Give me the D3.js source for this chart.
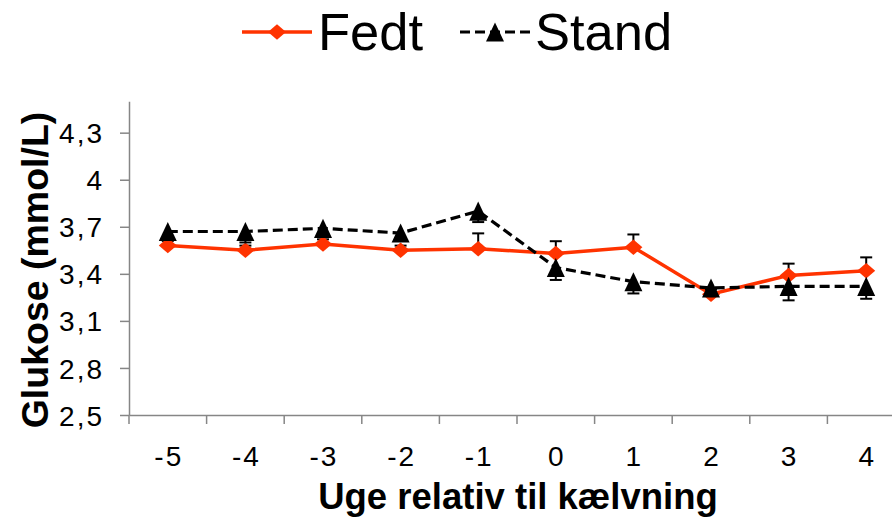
<!DOCTYPE html>
<html>
<head>
<meta charset="utf-8">
<script src="https://cdn.jsdelivr.net/npm/d3@7"></script>
<style>
  body { margin: 0; background: #fff; }
  text { font-family: "Liberation Sans", Arial, sans-serif; fill: #000; }
</style>
</head>
<body>
<div id="chart"></div>
<script>
// week relative to calving
var weeks = ['-5', '-4', '-3', '-2', '-1', '0', '1', '2', '3', '4'];
var fedtValues = [3.58, 3.55, 3.59, 3.55, 3.56, 3.53, 3.57, 3.27, 3.39, 3.42];
var fedtErr = [0.03, 0.03, 0.03, 0.03, 0.098, 0.078, 0.081, 0.03, 0.075, 0.085];
var standValues = [3.67, 3.67, 3.69, 3.66, 3.80, 3.44, 3.35, 3.31, 3.32, 3.32];
var standErr = [0.04, 0.07, 0.04, 0.04, 0.07, 0.079, 0.075, 0.04, 0.089, 0.079];
var yTicks = [2.5, 2.8, 3.1, 3.4, 3.7, 4, 4.3];
var yDomain = [2.5, 4.5];

var width = 892, height = 521;
var plot = {left: 129, right: 905, top: 101.3, bottom: 415};

var svg = d3.select('#chart')
    .append('svg')
        .attr('width', width)
        .attr('height', height);

var x = d3.scaleBand()
    .domain(weeks)
    .range([plot.left, plot.right])
    .padding(0);

var y = d3.scaleLinear()
    .domain(yDomain)
    .range([plot.bottom, plot.top]);

var axisColor = '#868686';
var red = '#ff3300';

// y axis
var yAxis = d3.axisLeft(y)
    .tickValues(yTicks)
    .tickSize(9)
    .tickSizeOuter(0)
    .tickPadding(16)
    .tickFormat(d => String(d).replace('.', ','));

var gy = svg.append('g')
    .attr('transform', `translate(${plot.left},0)`)
    .call(yAxis);
gy.select('.domain').attr('stroke', axisColor).attr('stroke-width', 1.5);
gy.selectAll('.tick line').attr('stroke', axisColor).attr('stroke-width', 1.5);
gy.selectAll('.tick text')
    .style('font-size', '28px')
    .style('letter-spacing', '2px')
    .attr('dy', '0.36em');

// x axis: labels centred in the band, tick marks between categories
var xAxis = d3.axisBottom(x)
    .tickSize(0)
    .tickSizeOuter(0)
    .tickPadding(31);

var gx = svg.append('g')
    .attr('transform', `translate(0,${y(yDomain[0])})`)
    .call(xAxis);
gx.select('.domain').attr('stroke', axisColor).attr('stroke-width', 1.5);
gx.selectAll('.tick text')
    .style('font-size', '28px')
    .style('letter-spacing', '2px')
    .attr('dx', '1');

gx.selectAll('.sep')
    .data(weeks)
    .enter()
    .append('line')
        .attr('class', 'sep')
        .attr('x1', d => x(d))
        .attr('x2', d => x(d))
        .attr('y1', 0)
        .attr('y2', 9)
        .attr('stroke', axisColor)
        .attr('stroke-width', 1.5);

// axis titles
svg.append('text')
    .attr('x', 518)
    .attr('y', 509)
    .attr('text-anchor', 'middle')
    .style('font-size', '36.5px')
    .style('font-weight', 'bold')
    .text('Uge relativ til kælvning');

svg.append('text')
    .attr('transform', 'translate(48,270) rotate(-90)')
    .attr('text-anchor', 'middle')
    .style('font-size', '37.5px')
    .style('font-weight', 'bold')
    .text('Glukose (mmol/L)');

// marker shapes like the spreadsheet ones
var diamond = {
    draw: function(ctx, size){
        var w = size / 2, h = size * 0.43;
        ctx.moveTo(0, -h);
        ctx.lineTo(w, 0);
        ctx.lineTo(0, h);
        ctx.lineTo(-w, 0);
        ctx.closePath();
    }
};
var triangle = {
    draw: function(ctx, size){
        var w = size / 2, h = size * 0.53;
        ctx.moveTo(0, -h);
        ctx.lineTo(w, h);
        ctx.lineTo(-w, h);
        ctx.closePath();
    }
};

var series = [
    {name: 'Fedt', values: fedtValues, err: fedtErr, dir: 1, color: red, dash: null, width: 3.5, shape: diamond, size: 18},
    {name: 'Stand', values: standValues, err: standErr, dir: -1, color: '#000', dash: '10,5', width: 3.2, shape: triangle, size: 18}
];

var line = d3.line()
    .x(d => x(d.week) + x.bandwidth() / 2)
    .y(d => y(d.value));

series.forEach(function(s){
    var pts = weeks.map((w, i) => ({week: w, value: s.values[i], err: s.err[i]}));
    var g = svg.append('g').attr('class', 'series');

    g.append('path')
        .datum(pts)
        .attr('d', line)
        .attr('fill', 'none')
        .attr('stroke', s.color)
        .attr('stroke-width', s.width)
        .attr('stroke-dasharray', s.dash);

    // error bars (one direction only)
    var eb = g.selectAll('.err')
        .data(pts)
        .enter()
        .append('g')
        .attr('class', 'err')
        .attr('stroke', '#000')
        .attr('stroke-width', 2);
    eb.append('line')
        .attr('x1', d => x(d.week) + x.bandwidth() / 2)
        .attr('x2', d => x(d.week) + x.bandwidth() / 2)
        .attr('y1', d => y(d.value))
        .attr('y2', d => y(d.value + s.dir * d.err));
    eb.append('line')
        .attr('x1', d => x(d.week) + x.bandwidth() / 2 - 6)
        .attr('x2', d => x(d.week) + x.bandwidth() / 2 + 6)
        .attr('y1', d => y(d.value + s.dir * d.err))
        .attr('y2', d => y(d.value + s.dir * d.err));

    g.selectAll('.marker')
        .data(pts)
        .enter()
        .append('path')
            .attr('class', 'marker')
            .attr('d', d3.symbol().type(s.shape).size(s.size))
            .attr('transform', d => `translate(${x(d.week) + x.bandwidth() / 2},${y(d.value)})`)
            .attr('fill', s.color);
});

// legend
var legend = svg.append('g').attr('class', 'legend');
var legendItems = [
    {s: series[0], x1: 242, x2: 312, tx: 318},
    {s: series[1], x1: 460, x2: 530, tx: 535}
];
legendItems.forEach(function(it){
    legend.append('line')
        .attr('x1', it.x1).attr('x2', it.x2)
        .attr('y1', 32).attr('y2', 32)
        .attr('stroke', it.s.color)
        .attr('stroke-width', it.s.width)
        .attr('stroke-dasharray', it.s.dash);
    legend.append('path')
        .attr('d', d3.symbol().type(it.s.shape).size(it.s.size))
        .attr('transform', `translate(${(it.x1 + it.x2) / 2},32)`)
        .attr('fill', it.s.color);
    legend.append('text')
        .attr('x', it.tx)
        .attr('y', 50)
        .style('font-size', '52.5px')
        .text(it.s.name);
});
</script>
</body>
</html>
